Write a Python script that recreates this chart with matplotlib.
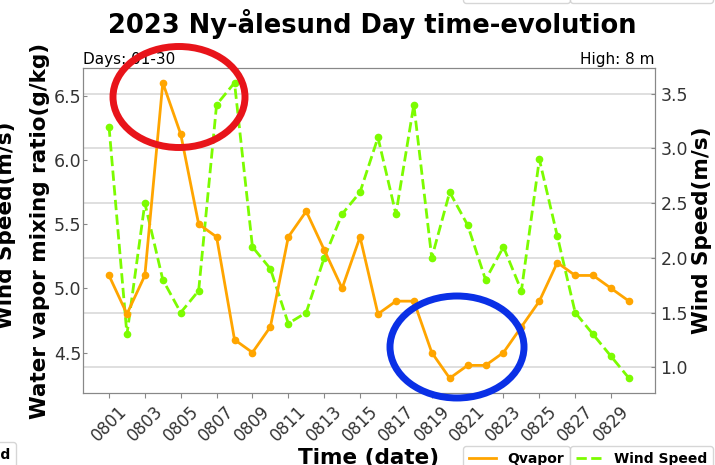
import matplotlib
matplotlib.use("Agg")
import matplotlib.pyplot as plt
from matplotlib.patches import Ellipse
from matplotlib.lines import Line2D

# daily values, Aug 2023
dates = ["08%02d" % d for d in range(1, 31)]
qvapor = [5.1, 4.8, 5.1, 6.6, 6.2, 5.5, 5.4, 4.6, 4.5, 4.7,
          5.4, 5.6, 5.3, 5.0, 5.4, 4.8, 4.9, 4.9, 4.5, 4.3,
          4.4, 4.4, 4.5, 4.7, 4.9, 5.2, 5.1, 5.1, 5.0, 4.9]
wind = [3.2, 1.3, 2.5, 1.8, 1.5, 1.7, 3.4, 3.6, 2.1, 1.9,
        1.4, 1.5, 2.0, 2.4, 2.6, 3.1, 2.4, 3.4, 2.0, 2.6,
        2.3, 1.8, 2.1, 1.7, 2.9, 2.2, 1.5, 1.3, 1.1, 0.9]

W, H = 715, 465
fig = plt.figure(figsize=(W / 100, H / 100), dpi=100)
ax = fig.add_axes([83 / W, 1 - 393 / H, (655 - 83) / W, (393 - 68) / H])
ax2 = ax.twinx()

x = list(range(len(dates)))
ax.plot(x, qvapor, color="orange", lw=2, marker="o", ms=4.5)
ax2.plot(x, wind, color="lawngreen", lw=2, ls="--", marker="o", ms=4.5)

ax.set_xticks(x[::2])
ax.set_xticklabels(dates[::2], rotation=45, fontsize=12, color="#333333")
ax.tick_params(axis="x", length=3.5, color="#888888")
ax.tick_params(axis="y", direction="in", length=3, pad=1, labelsize=12.5,
               labelcolor="#333333", color="#888888")
ax2.tick_params(axis="y", direction="in", length=3, pad=4, labelsize=12.5,
                labelcolor="#333333", color="#888888")
ax.set_yticks([4.5, 5.0, 5.5, 6.0, 6.5])
ax2.set_yticks([1.0, 1.5, 2.0, 2.5, 3.0, 3.5])
ax2.grid(True, axis="y", color="#d9d9d9", lw=1.2)
ax2.set_zorder(0)
ax.set_zorder(1)
ax.patch.set_visible(False)

for a in (ax, ax2):
    for s in a.spines.values():
        s.set_color("#888888")

ax.set_xlabel("Time (date)", fontsize=15.5, fontweight="bold", labelpad=2)
ax.set_ylabel("Water vapor mixing ratio(g/kg)", fontsize=15.5, fontweight="bold",
              labelpad=3)
ax2.set_ylabel("Wind Speed(m/s)", fontsize=15.5, fontweight="bold", labelpad=3)
fig.text(16 / W, 1 - 225 / H, "Wind Speed(m/s)", rotation=90, ha="right",
         va="center", fontsize=15.5, fontweight="bold")

ax.set_title("Days: 01-30", loc="left", fontsize=11, pad=3)
ax.set_title("High: 8 m", loc="right", fontsize=11, pad=3)
fig.text(372 / W, 1 - 24 / H, "2023 Ny-ålesund Day time-evolution",
         ha="center", va="center", fontsize=18.5, fontweight="bold")

# legend handles: plain lines, no markers
h1 = Line2D([], [], color="orange", lw=2, label="Qvapor")
h2 = Line2D([], [], color="lawngreen", lw=2, ls="--", label="Wind Speed")
lp = {"weight": "bold", "size": 10}
fig.legend(handles=[h1], loc="upper left", bbox_to_anchor=(463 / W, 1 - 446 / H),
           prop=lp, borderaxespad=0)
fig.legend(handles=[h2], loc="upper left", bbox_to_anchor=(570 / W, 1 - 446 / H),
           prop=lp, borderaxespad=0)
# stubs of the neighbouring panels' legends
fig.legend(handles=[h1], loc="lower left", bbox_to_anchor=(463 / W, 1 - 3 / H),
           prop=lp, borderaxespad=0)
fig.legend(handles=[h2], loc="lower left", bbox_to_anchor=(570 / W, 1 - 3 / H),
           prop=lp, borderaxespad=0)
fig.legend(handles=[h2], loc="upper right", bbox_to_anchor=(16 / W, 1 - 442 / H),
           prop=lp, borderaxespad=0)

fig.add_artist(Ellipse((179 / W, 1 - 97 / H), 132 / W, 101 / H, fill=False,
                       ec="#e8141a", lw=5, transform=fig.transFigure, zorder=10))
fig.add_artist(Ellipse((457 / W, 1 - 347 / H), 134 / W, 102 / H, fill=False,
                       ec="#0a30e6", lw=5, transform=fig.transFigure, zorder=10))

fig.savefig("out.png", dpi=100)
